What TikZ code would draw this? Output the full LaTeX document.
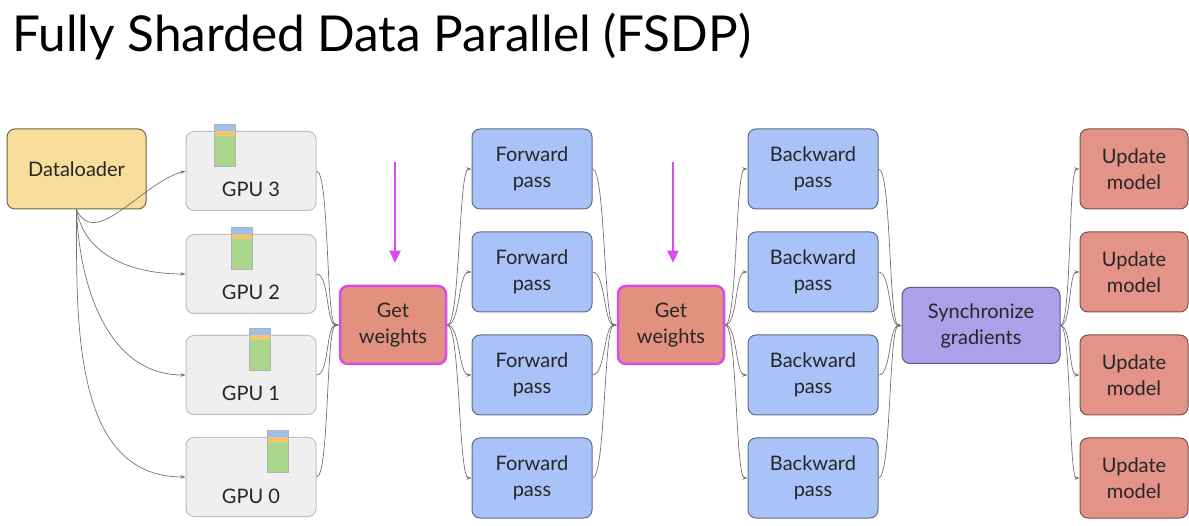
\documentclass[tikz,border=0pt]{standalone}
\usepackage{fontspec}
\setmainfont{Lato}
\usepackage{tikz}
\usetikzlibrary{arrows.meta,positioning}

\definecolor{loaderfill}{HTML}{F9DE9B}
\definecolor{gpufill}{HTML}{EFEFEF}
\definecolor{passfill}{HTML}{A9C2F8}
\definecolor{getwfill}{HTML}{E2917F}
\definecolor{getwline}{HTML}{D84CEE}
\definecolor{syncfill}{HTML}{ACA0EB}
\definecolor{updfill}{HTML}{E39388}
\definecolor{barblue}{HTML}{9EBEF0}
\definecolor{barorange}{HTML}{F4C66C}
\definecolor{bargreen}{HTML}{A9D58C}

\begin{document}
\begin{tikzpicture}[
    x=1pt, y=1pt,
    box/.style={rectangle, rounded corners=8pt, line width=1pt, align=center,
      font=\fontsize{20}{26}\selectfont, text=black!85},
    loader/.style={box, draw=black!55!loaderfill, fill=loaderfill, minimum width=139pt, minimum height=80pt},
    gpu/.style={box, draw=black!25, fill=gpufill, minimum width=130pt, minimum height=79pt},
    fwd/.style={box, draw=black!45!passfill, fill=passfill, minimum width=120pt, minimum height=80pt},
    bwd/.style={fwd, minimum width=130pt},
    getw/.style={box, draw=getwline, line width=2.5pt, fill=getwfill, minimum width=106pt, minimum height=78pt},
    sync/.style={box, draw=black!45!syncfill, fill=syncfill, minimum width=158pt, minimum height=76pt},
    upd/.style={box, draw=black!45!updfill, fill=updfill, minimum width=108pt, minimum height=80pt},
    link/.style={-{Stealth[length=5pt,width=3.5pt]}, draw=black!55, line width=0.7pt},
    push/.style={-{Triangle[length=12pt,width=11pt]}, draw=getwline, fill=getwline, line width=2.2pt},
  ]
  \useasboundingbox (0,0) rectangle (1189,-526);

  % Title
  \node[anchor=base west, inner sep=0pt, font=\fontsize{49.5}{58}\selectfont] (title) at (12,-52)
    {Fully Sharded Data Parallel (FSDP)};

  % Data and GPUs
  \node[loader] (loader) at (76.5,-169) {Dataloader};
  \node[gpu] (gpu3) at (251,-171) {};
  \node[gpu] (gpu2) at (251,-274) {};
  \node[gpu] (gpu1) at (251,-375) {};
  \node[gpu] (gpu0) at (251,-477) {};
  \foreach \g/\dx in {3/-26.5, 2/-9, 1/8.5, 0/26.5} {
    \node[font=\fontsize{20}{24}\selectfont, text=black!85, anchor=base] (lbl\g)
      at ([yshift=-26pt]gpu\g.center) {GPU \g};
    \fill[barblue]   ([xshift=\dx pt-10.5pt, yshift=7pt]gpu\g.north) rectangle ++(21,-7);
    \fill[barorange] ([xshift=\dx pt-10.5pt]gpu\g.north) rectangle ++(21,-5);
    \fill[bargreen]  ([xshift=\dx pt-10.5pt, yshift=-5pt]gpu\g.north) rectangle ++(21,-30);
    \draw[black!30, line width=0.4pt] ([xshift=\dx pt-10.5pt, yshift=7pt]gpu\g.north) rectangle ++(21,-42);
  }

  % Weights and passes
  \node[getw] (getw1) at (393,-325) {Get\\weights};
  \node[getw] (getw2) at (671,-325) {Get\\weights};
  \node[sync] (sync) at (981,-325.5) {Synchronize\\gradients};
  \foreach \i/\y in {1/-169, 2/-272, 3/-375, 4/-478} {
    \node[fwd] (fwd\i) at (532,\y) {Forward\\pass};
    \node[bwd] (bwd\i) at (813,\y) {Backward\\pass};
    \node[upd] (upd\i) at (1134,\y) {Update\\model};
  }

  % Connectors
  \draw[link] (loader.south) to[out=-65, in=195] (gpu3.west);
  \draw[link] (loader.south) to[out=-80, in=180] (gpu2.west);
  \draw[link] (loader.south) to[out=-88, in=180] (gpu1.west);
  \draw[link] (loader.south) to[out=-90, in=180] (gpu0.west);
  \foreach \g in {0,...,3}
    \draw[link] (gpu\g.east) .. controls +(13,0) and +(-13,0) .. (getw1.west);
  \foreach \i in {1,...,4} {
    \draw[link] (getw1.east) .. controls +(13,0) and +(-13,0) .. (fwd\i.west);
    \draw[link] (fwd\i.east) .. controls +(13,0) and +(-13,0) .. (getw2.west);
    \draw[link] (getw2.east) .. controls +(12,0) and +(-12,0) .. (bwd\i.west);
    \draw[link] (bwd\i.east) .. controls +(13,0) and +(-13,0) .. (sync.west);
    \draw[link] (sync.east) .. controls +(11,0) and +(-11,0) .. (upd\i.west);
  }

  % Weight fetch markers
  \coordinate (top1) at (395,-162);
  \coordinate (top2) at (673,-162);
  \draw[push] (top1) -- ([yshift=22pt]getw1.north -| top1);
  \draw[push] (top2) -- ([yshift=22pt]getw2.north -| top2);
\end{tikzpicture}
\end{document}
